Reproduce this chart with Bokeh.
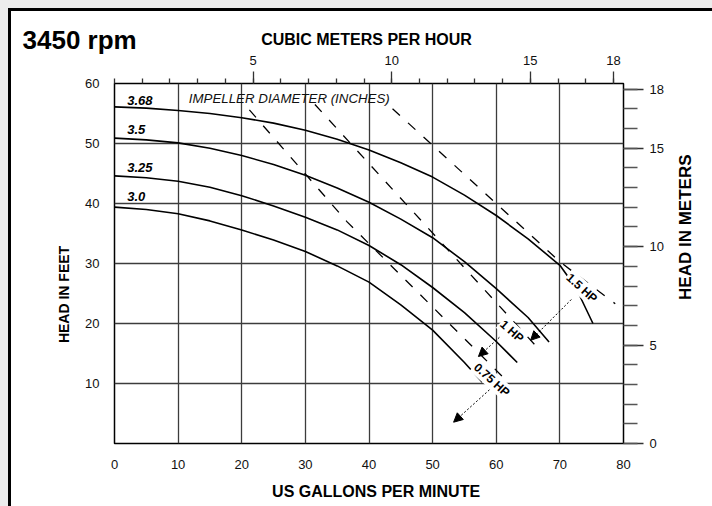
import numpy as np
from bokeh.plotting import figure
from bokeh.models import Range1d, LinearAxis, FixedTicker, Label, Arrow, NormalHead
from bokeh.embed import file_html
from bokeh.resources import INLINE

# ---------------- data ----------------
gpm_368 = [0, 5, 10, 15, 20, 25, 30, 35, 40, 45, 50, 55, 60, 65, 70, 72.5, 75.2]
ft_368 = [56.1, 55.9, 55.5, 55.0, 54.3, 53.4, 52.2, 50.7, 48.9, 46.8, 44.4, 41.4, 38.0, 34.1, 29.7, 26.0, 20.0]
gpm_350 = [0, 5, 10, 15, 20, 25, 30, 35, 40, 45, 50, 55, 60, 65, 68.3]
ft_350 = [50.9, 50.6, 50.1, 49.2, 48.0, 46.5, 44.7, 42.6, 40.2, 37.4, 34.3, 30.3, 25.8, 21.0, 16.9]
gpm_325 = [0, 5, 10, 15, 20, 25, 30, 35, 40, 45, 50, 55, 60, 63.3]
ft_325 = [44.6, 44.3, 43.7, 42.7, 41.3, 39.6, 37.7, 35.6, 33.0, 29.8, 26.0, 21.8, 17.0, 13.5]
gpm_300 = [0, 5, 10, 15, 20, 25, 30, 35, 40, 45, 50, 55, 57.8]
ft_300 = [39.4, 39.0, 38.3, 37.1, 35.6, 33.9, 32.0, 29.6, 26.9, 23.1, 18.9, 13.5, 10.2]
curve_labels = ["3.68", "3.5", "3.25", "3.0"]

hp_075_gpm = [21.2, 36.6, 61.6]
hp_075_ft = [55.6, 36.9, 10.5]
hp_100_gpm = [31.5, 66.2]
hp_100_ft = [56.5, 16.3]
hp_150_gpm = [43.7, 70.1, 78.7]
hp_150_ft = [55.8, 30.2, 23.3]
hp_labels = ["0.75 HP", "1 HP", "1.5 HP"]

bottom_ticks = [0, 10, 20, 30, 40, 50, 60, 70, 80]
left_ticks = [10, 20, 30, 40, 50, 60]
top_ticks = [5, 10, 15, 18]
top_minor = list(range(0, 19))
right_ticks = [0, 5, 10, 15, 18]
right_minor = list(range(0, 19))

FONT = "Liberation Sans"

p = figure(width=712, height=506, x_range=Range1d(0, 80), y_range=Range1d(0, 60),
           output_backend="svg", toolbar_location=None, title=None,
           min_border_left=114, min_border_top=83, min_border_right=89, min_border_bottom=63)
# page look: light grey margin strip and a heavy black edge on the top/left of the white panel
p.styles = {
    "background-color": "white",
    "background-image": ("linear-gradient(#000,#000), linear-gradient(#000,#000), "
                         "linear-gradient(#ececec,#ececec), linear-gradient(#ececec,#ececec)"),
    "background-size": "100% 3px, 3px 100%, 100% 8px, 8px 100%",
    "background-position": "8px 8px, 8px 8px, 0 0, 0 0",
    "background-repeat": "no-repeat",
}
p.background_fill_color = "white"
p.border_fill_alpha = 0
p.outline_line_color = "black"
p.outline_line_width = 1.5

# grids
p.xgrid.ticker = FixedTicker(ticks=[10, 20, 30, 40, 50, 60, 70])
p.ygrid.ticker = FixedTicker(ticks=[10, 20, 30, 40, 50])
for g in (p.xgrid[0], p.ygrid[0]):
    g.grid_line_color = "#3c3c3c"
    g.grid_line_width = 1.3

# bottom / left axes
bx = p.xaxis[0]
bx.ticker = FixedTicker(ticks=bottom_ticks)
by = p.yaxis[0]
by.ticker = FixedTicker(ticks=left_ticks)
for ax in (bx, by):
    ax.axis_line_color = None
    ax.major_tick_line_color = None
    ax.minor_tick_line_color = None
    ax.major_tick_in = 0
    ax.major_tick_out = 0
    ax.minor_tick_in = 0
    ax.minor_tick_out = 0
    ax.major_label_text_font = FONT
    ax.major_label_text_font_size = "13px"
    ax.major_label_text_color = "#111111"
bx.major_label_standoff = 16
by.major_label_standoff = 15

# top axis (m3/h)
p.extra_x_ranges = {"m3h": Range1d(0, 18.36)}
tx = LinearAxis(x_range_name="m3h", ticker=FixedTicker(ticks=top_ticks, minor_ticks=top_minor))
tx.major_tick_in = 0
tx.major_tick_out = 12
tx.minor_tick_in = 0
tx.minor_tick_out = 5
tx.major_tick_line_color = "#333333"
tx.minor_tick_line_color = "#333333"
tx.major_tick_line_width = 1.3
tx.minor_tick_line_width = 1.3
tx.axis_line_color = None
tx.major_label_text_font = FONT
tx.major_label_text_font_size = "13px"
tx.major_label_text_color = "#111111"
tx.major_label_standoff = 7
p.add_layout(tx, "above")

# right axis (m)
p.extra_y_ranges = {"m": Range1d(0, 60 * 0.3048)}
ry = LinearAxis(y_range_name="m", ticker=FixedTicker(ticks=right_ticks, minor_ticks=right_minor))
ry.major_tick_in = 0
ry.major_tick_out = 20
ry.minor_tick_in = 0
ry.minor_tick_out = 14
ry.major_tick_line_color = "#333333"
ry.minor_tick_line_color = "#555555"
ry.major_tick_line_width = 1.3
ry.minor_tick_line_width = 1.3
ry.axis_line_color = None
ry.major_label_text_font = FONT
ry.major_label_text_font_size = "13px"
ry.major_label_text_color = "#111111"
ry.major_label_standoff = 6
p.add_layout(ry, "right")

# pump curves
for gx, fy in [(gpm_368, ft_368), (gpm_350, ft_350), (gpm_325, ft_325), (gpm_300, ft_300)]:
    p.line(gx, fy, line_color="black", line_width=1.6)

# HP limit dashed lines
for gx, fy in [(hp_075_gpm, hp_075_ft), (hp_100_gpm, hp_100_ft), (hp_150_gpm, hp_150_ft)]:
    p.line(gx, fy, line_color="black", line_width=1.3, line_dash="10 11")

# arrows
arrow_specs = [((71.8, 24.0), (65.4, 17.2)), ((60.5, 17.7), (57.2, 14.5)), ((59.4, 9.4), (53.3, 3.55))]
for (xs, ys), (xe, ye) in arrow_specs:
    p.add_layout(Arrow(end=NormalHead(size=9, fill_color="black", line_color="black"),
                       x_start=xs, y_start=ys, x_end=xe, y_end=ye,
                       line_color="black", line_width=1, line_dash="2 2"))

# HP labels
for txt, (lx, ly) in zip(hp_labels, [(59.3, 10.6), (62.45, 18.7), (73.45, 25.9)]):
    p.add_layout(Label(x=lx, y=ly, text=txt, angle=-0.73, text_align="center", text_baseline="middle",
                       text_font=FONT, text_font_style="bold", text_font_size="12px", text_color="black",
                       background_fill_color="white", padding=1))

# curve labels
for txt, ly in zip(curve_labels, [57.17, 52.33, 45.92, 41.17]):
    p.add_layout(Label(x=2.0, y=ly, text=txt, text_align="left", text_baseline="middle",
                       text_font=FONT, text_font_style="bold italic", text_font_size="13px", text_color="black"))

p.add_layout(Label(x=11.68, y=57.5, text="IMPELLER DIAMETER (INCHES)", text_align="left",
                   text_baseline="middle", text_font=FONT, text_font_style="italic",
                   text_font_size="13.3px", text_color="#111111"))

# outer titles in canvas pixels, held in side panels so they are not clipped to the frame
def outer(text, x, y, size, side, align="left", angle=0.0):
    p.add_layout(Label(x=x, y=y, x_units="canvas", y_units="canvas", text=text, angle=angle,
                       text_align=align, text_baseline="middle", text_font=FONT,
                       text_font_style="bold", text_font_size=size, text_color="black"), side)

outer("3450 rpm", 22, 39, "26px", "above")
outer("CUBIC METERS PER HOUR", 366, 38.7, "16px", "above", align="center")
outer("US GALLONS PER MINUTE", 375.6, 491.3, "16px", "below", align="center")
outer("HEAD IN FEET", 63.3, 294, "14px", "left", align="center", angle=np.pi / 2)
outer("HEAD IN METERS", 685.3, 226.7, "17px", "right", align="center", angle=np.pi / 2)

open("out.html", "w").write(file_html(p, INLINE))
